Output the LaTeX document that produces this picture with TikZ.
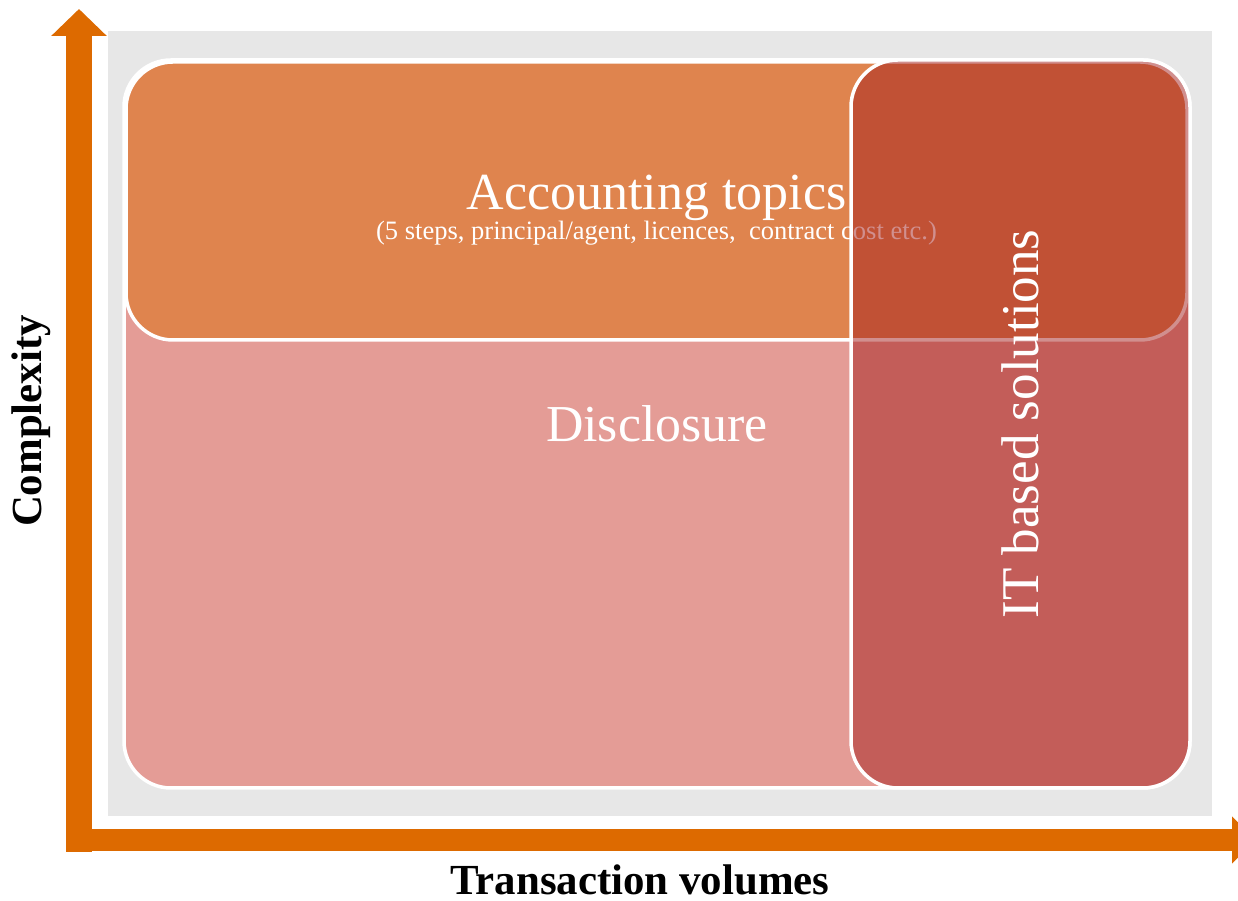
\documentclass[tikz,border=0pt]{standalone}
\usepackage{fontspec}
\setmainfont{Liberation Serif}
\usetikzlibrary{arrows.meta}
\definecolor{axisorange}{RGB}{221,106,0}
\definecolor{panelgray}{RGB}{231,231,231}
\definecolor{accfill}{RGB}{223,132,78}
\definecolor{discfill}{RGB}{228,156,150}
\definecolor{itfill}{RGB}{164,32,30}
\begin{document}
\begin{tikzpicture}[inner sep=0pt,outer sep=0pt,
area/.style={draw=white,line width=0.07cm,rectangle,rounded corners=0.94cm,text=white,align=center},
axis/.style={axisorange,line width=#1},
axislabel/.style={font=\bfseries\fontsize{24.4}{28}\selectfont}]
\useasboundingbox (0,0) rectangle (24.76,18.02);
\clip (0,0) rectangle (24.76,18.02);
\fill[panelgray] (2.16,1.70) rectangle (24.24,17.40);
% the three overlapping areas
\draw (13.14,9.54) node[area,fill=discfill,minimum width=21.32cm,minimum height=14.56cm] (disclosure)
  {\fontsize{29.5}{33}\selectfont Disclosure};
\draw (13.13,14.00) node[area,fill=accfill,minimum width=21.22cm,minimum height=5.56cm] (accounting)
  {\fontsize{29.6}{33}\selectfont\rule{0pt}{30pt}Accounting topics\\[-1pt]
   \fontsize{15.1}{18}\selectfont (5 steps, principal/agent, licences,\ \ contract cost etc.)};
\draw (20.41,9.54) node[area,fill=itfill,fill opacity=0.5,text opacity=1,rotate=90,
  minimum width=14.56cm,minimum height=6.78cm] (itsol)
  {\fontsize{30.2}{34}\selectfont IT based solutions};
% axes
\coordinate (ytop) at (1.58,17.84);
\coordinate (ybot) at (1.58,0.98);
\coordinate (xleft) at (1.32,1.22);
\coordinate (xright) at (25.10,1.22);
\draw[axis=0.52cm,-{Triangle[length=0.54cm,width=1.08cm]}] (ybot) -- (ytop);
\draw[axis=0.44cm,-{Triangle[length=0.46cm,width=0.92cm]}] (xleft) -- (xright);
\draw (0.62,9.60) node[axislabel,rotate=90] (ylabel) {Complexity};
\draw (12.80,0.42) node[axislabel] (xlabel) {Transaction volumes};
\end{tikzpicture}
\end{document}
